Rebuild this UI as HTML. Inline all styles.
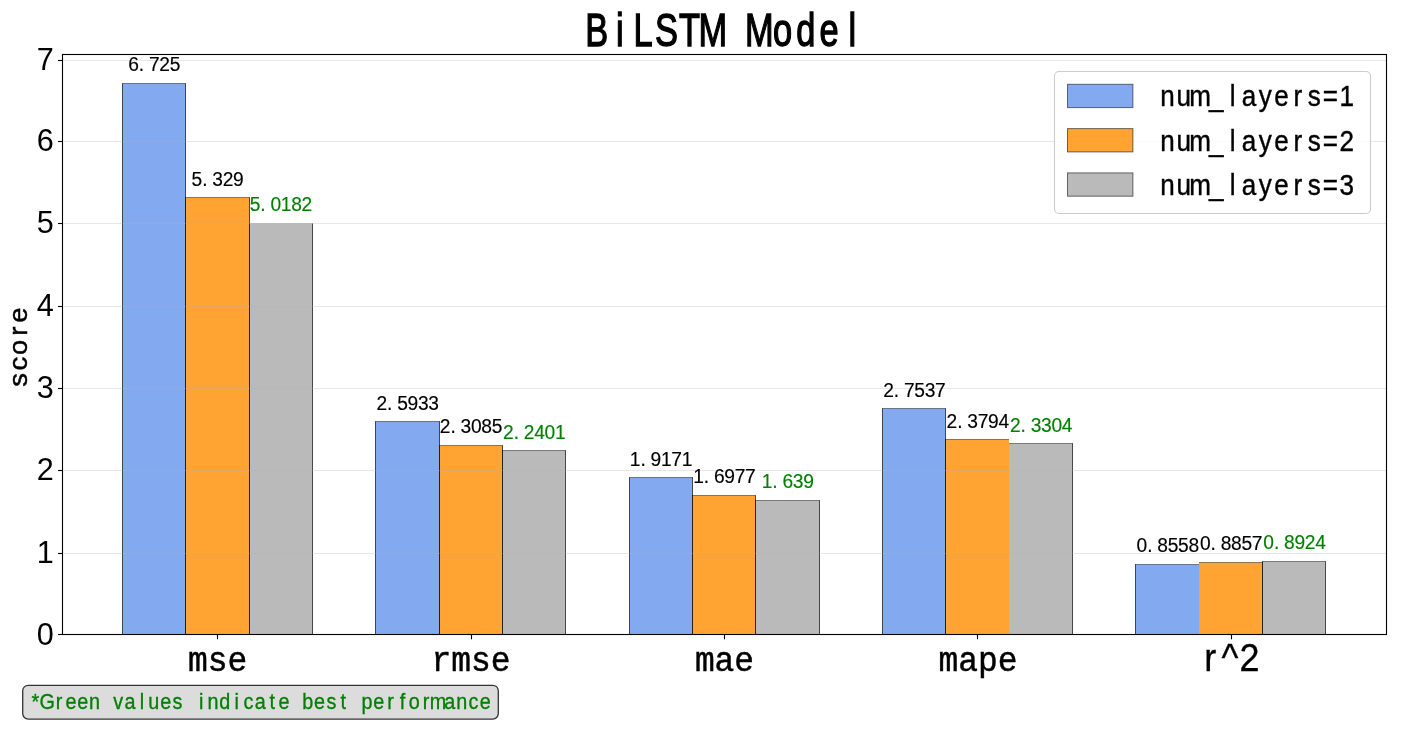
<!DOCTYPE html>
<html lang="en"><head><meta charset="utf-8"><title>BiLSTM Model</title>
<style>html,body{margin:0;padding:0;background:#fff;overflow:hidden}svg{display:block}</style></head>
<body>
<svg width="1401" height="729" viewBox="0 0 1401 729">
<rect width="1401" height="729" fill="#fff"/>
<rect x="122.5" y="83.5" width="63" height="551" fill="#6495ed" fill-opacity="0.8"/>
<path d="M122.5 634.5V83.5M185.5 83.5V634.5" fill="none" stroke="#000" stroke-opacity="0.68" stroke-width="1"/>
<path d="M122 83.5H186" fill="none" stroke="#000" stroke-opacity="0.45" stroke-width="1"/>
<rect x="185.5" y="197.5" width="64" height="437" fill="#ff8c00" fill-opacity="0.8"/>
<path d="M185.5 634.5V197.5M249.5 197.5V634.5" fill="none" stroke="#000" stroke-opacity="0.68" stroke-width="1"/>
<path d="M185 197.5H250" fill="none" stroke="#000" stroke-opacity="0.45" stroke-width="1"/>
<rect x="249.5" y="223.5" width="63" height="411" fill="#a9a9a9" fill-opacity="0.8"/>
<path d="M249.5 634.5V223.5M312.5 223.5V634.5" fill="none" stroke="#000" stroke-opacity="0.68" stroke-width="1"/>
<path d="M249 223.5H313" fill="none" stroke="#000" stroke-opacity="0.12" stroke-width="1"/>
<rect x="375.5" y="421.5" width="64" height="213" fill="#6495ed" fill-opacity="0.8"/>
<path d="M375.5 634.5V421.5M439.5 421.5V634.5" fill="none" stroke="#000" stroke-opacity="0.68" stroke-width="1"/>
<path d="M375 421.5H440" fill="none" stroke="#000" stroke-opacity="0.45" stroke-width="1"/>
<rect x="439.5" y="445.5" width="63" height="189" fill="#ff8c00" fill-opacity="0.8"/>
<path d="M439.5 634.5V445.5M502.5 445.5V634.5" fill="none" stroke="#000" stroke-opacity="0.68" stroke-width="1"/>
<path d="M439 445.5H503" fill="none" stroke="#000" stroke-opacity="0.45" stroke-width="1"/>
<rect x="502.5" y="450.5" width="63" height="184" fill="#a9a9a9" fill-opacity="0.8"/>
<path d="M502.5 634.5V450.5M565.5 450.5V634.5" fill="none" stroke="#000" stroke-opacity="0.68" stroke-width="1"/>
<path d="M502 450.5H566" fill="none" stroke="#000" stroke-opacity="0.45" stroke-width="1"/>
<rect x="629.5" y="477.5" width="63" height="157" fill="#6495ed" fill-opacity="0.8"/>
<path d="M629.5 634.5V477.5M692.5 477.5V634.5" fill="none" stroke="#000" stroke-opacity="0.68" stroke-width="1"/>
<path d="M629 477.5H693" fill="none" stroke="#000" stroke-opacity="0.45" stroke-width="1"/>
<rect x="692.5" y="495.5" width="63" height="139" fill="#ff8c00" fill-opacity="0.8"/>
<path d="M692.5 634.5V495.5M755.5 495.5V634.5" fill="none" stroke="#000" stroke-opacity="0.68" stroke-width="1"/>
<path d="M692 495.5H756" fill="none" stroke="#000" stroke-opacity="0.45" stroke-width="1"/>
<rect x="755.5" y="500.5" width="64" height="134" fill="#a9a9a9" fill-opacity="0.8"/>
<path d="M755.5 634.5V500.5M819.5 500.5V634.5" fill="none" stroke="#000" stroke-opacity="0.68" stroke-width="1"/>
<path d="M755 500.5H820" fill="none" stroke="#000" stroke-opacity="0.45" stroke-width="1"/>
<rect x="882.5" y="408.5" width="63" height="226" fill="#6495ed" fill-opacity="0.8"/>
<path d="M882.5 634.5V408.5M945.5 408.5V634.5" fill="none" stroke="#000" stroke-opacity="0.68" stroke-width="1"/>
<path d="M882 408.5H946" fill="none" stroke="#000" stroke-opacity="0.45" stroke-width="1"/>
<rect x="945.5" y="439.5" width="63.5" height="195" fill="#ff8c00" fill-opacity="0.8"/>
<path d="M945.5 634.5V439.5" fill="none" stroke="#000" stroke-opacity="0.68" stroke-width="1"/>
<path d="M945 439.5H1009" fill="none" stroke="#000" stroke-opacity="0.45" stroke-width="1"/>
<rect x="1009" y="443.5" width="63.5" height="191" fill="#a9a9a9" fill-opacity="0.8"/>
<path d="M1072.5 443.5V634.5" fill="none" stroke="#000" stroke-opacity="0.68" stroke-width="1"/>
<path d="M1009 443.5H1073" fill="none" stroke="#000" stroke-opacity="0.45" stroke-width="1"/>
<rect x="1135.5" y="564.5" width="63.5" height="70" fill="#6495ed" fill-opacity="0.8"/>
<path d="M1135.5 634.5V564.5" fill="none" stroke="#000" stroke-opacity="0.68" stroke-width="1"/>
<path d="M1135 564.5H1199" fill="none" stroke="#000" stroke-opacity="0.45" stroke-width="1"/>
<rect x="1199" y="562.5" width="63.5" height="72" fill="#ff8c00" fill-opacity="0.8"/>
<path d="M1262.5 562.5V634.5" fill="none" stroke="#000" stroke-opacity="0.68" stroke-width="1"/>
<path d="M1199 562.5H1263" fill="none" stroke="#000" stroke-opacity="0.45" stroke-width="1"/>
<rect x="1262.5" y="561.5" width="63" height="73" fill="#a9a9a9" fill-opacity="0.8"/>
<path d="M1262.5 634.5V561.5M1325.5 561.5V634.5" fill="none" stroke="#000" stroke-opacity="0.68" stroke-width="1"/>
<path d="M1262 561.5H1326" fill="none" stroke="#000" stroke-opacity="0.45" stroke-width="1"/>
<line x1="62.5" x2="1386.5" y1="553.5" y2="553.5" stroke="#b0b0b0" stroke-opacity="0.3" stroke-width="1"/>
<line x1="62.5" x2="1386.5" y1="470.5" y2="470.5" stroke="#b0b0b0" stroke-opacity="0.3" stroke-width="1"/>
<line x1="62.5" x2="1386.5" y1="388.5" y2="388.5" stroke="#b0b0b0" stroke-opacity="0.3" stroke-width="1"/>
<line x1="62.5" x2="1386.5" y1="306.5" y2="306.5" stroke="#b0b0b0" stroke-opacity="0.3" stroke-width="1"/>
<line x1="62.5" x2="1386.5" y1="223.5" y2="223.5" stroke="#b0b0b0" stroke-opacity="0.3" stroke-width="1"/>
<line x1="62.5" x2="1386.5" y1="141.5" y2="141.5" stroke="#b0b0b0" stroke-opacity="0.3" stroke-width="1"/>
<line x1="62.5" x2="1386.5" y1="60.5" y2="60.5" stroke="#b0b0b0" stroke-opacity="0.3" stroke-width="1"/>
<rect x="62.5" y="54.5" width="1324.0" height="580.0" fill="none" stroke="#000" stroke-width="1.1"/>
<line x1="58.0" x2="62.5" y1="634.5" y2="634.5" stroke="#000" stroke-width="1.1"/>
<line x1="58.0" x2="62.5" y1="553.5" y2="553.5" stroke="#000" stroke-width="1.1"/>
<line x1="58.0" x2="62.5" y1="470.5" y2="470.5" stroke="#000" stroke-width="1.1"/>
<line x1="58.0" x2="62.5" y1="388.5" y2="388.5" stroke="#000" stroke-width="1.1"/>
<line x1="58.0" x2="62.5" y1="306.5" y2="306.5" stroke="#000" stroke-width="1.1"/>
<line x1="58.0" x2="62.5" y1="223.5" y2="223.5" stroke="#000" stroke-width="1.1"/>
<line x1="58.0" x2="62.5" y1="141.5" y2="141.5" stroke="#000" stroke-width="1.1"/>
<line x1="58.0" x2="62.5" y1="60.5" y2="60.5" stroke="#000" stroke-width="1.1"/>
<line x1="217.5" x2="217.5" y1="634.5" y2="639.3" stroke="#000" stroke-width="1.1"/>
<line x1="471.5" x2="471.5" y1="634.5" y2="639.3" stroke="#000" stroke-width="1.1"/>
<line x1="724.5" x2="724.5" y1="634.5" y2="639.3" stroke="#000" stroke-width="1.1"/>
<line x1="977.5" x2="977.5" y1="634.5" y2="639.3" stroke="#000" stroke-width="1.1"/>
<line x1="1231.5" x2="1231.5" y1="634.5" y2="639.3" stroke="#000" stroke-width="1.1"/>
<text transform="translate(37.2,645.3) scale(1.0,1)" x="8.15" y="0" text-anchor="middle" font-family="'Liberation Sans', sans-serif" font-size="30.6" fill="#000">0</text>
<text transform="translate(37.2,563.1) scale(1.0,1)" x="8.15" y="0" text-anchor="middle" font-family="'Liberation Sans', sans-serif" font-size="30.6" fill="#000">1</text>
<text transform="translate(37.2,480.1) scale(1.0,1)" x="8.15" y="0" text-anchor="middle" font-family="'Liberation Sans', sans-serif" font-size="30.6" fill="#000">2</text>
<text transform="translate(37.2,398.1) scale(1.0,1)" x="8.15" y="0" text-anchor="middle" font-family="'Liberation Sans', sans-serif" font-size="30.6" fill="#000">3</text>
<text transform="translate(37.2,316.1) scale(1.0,1)" x="8.15" y="0" text-anchor="middle" font-family="'Liberation Sans', sans-serif" font-size="30.6" fill="#000">4</text>
<text transform="translate(37.2,233.1) scale(1.0,1)" x="8.15" y="0" text-anchor="middle" font-family="'Liberation Sans', sans-serif" font-size="30.6" fill="#000">5</text>
<text transform="translate(37.2,151.1) scale(1.0,1)" x="8.15" y="0" text-anchor="middle" font-family="'Liberation Sans', sans-serif" font-size="30.6" fill="#000">6</text>
<text transform="translate(37.2,70.1) scale(1.0,1)" x="8.15" y="0" text-anchor="middle" font-family="'Liberation Sans', sans-serif" font-size="30.6" fill="#000">7</text>
<text transform="translate(188.08,671.2) scale(0.9430,1)" font-family="'Liberation Mono', monospace" font-size="34.9" fill="#000" stroke="#000" stroke-width="0.5">mse</text>
<text transform="translate(431.6,671.2) scale(0.9430,1)" font-family="'Liberation Mono', monospace" font-size="34.9" fill="#000" stroke="#000" stroke-width="0.5">rmse</text>
<text transform="translate(694.88,671.2) scale(0.9430,1)" font-family="'Liberation Mono', monospace" font-size="34.9" fill="#000" stroke="#000" stroke-width="0.5">mae</text>
<text transform="translate(938.4,671.2) scale(0.9430,1)" font-family="'Liberation Mono', monospace" font-size="34.9" fill="#000" stroke="#000" stroke-width="0.5">mape</text>
<text transform="translate(1200.27,671.2) scale(0.92,1)" x="10.73 32.2 53.67" y="0" text-anchor="middle" font-family="'Liberation Sans', sans-serif" font-size="39.2" fill="#000" stroke="#000" stroke-width="0.3" vector-effect="non-scaling-stroke">r^2</text>
<text transform="translate(585,45.8) scale(0.74,1)" x="15.71 47.13 78.55 109.97 141.39 172.8 204.22 235.64 267.06 298.48 329.9 361.32" y="0" text-anchor="middle" font-family="'Liberation Sans', sans-serif" font-size="46.5" fill="#000" stroke="#000" stroke-width="1.2" vector-effect="non-scaling-stroke">BiLSTM Model</text>
<text transform="translate(27.4,387.9) rotate(-90) scale(1.03,1)" x="7.86 23.59 39.32 55.05 70.78" y="0" text-anchor="middle" font-family="'Liberation Sans', sans-serif" font-size="26.6" fill="#000" stroke="#000" stroke-width="0.5" vector-effect="non-scaling-stroke">score</text>
<text transform="translate(128.35,71.05) scale(0.98,1)" x="5.3 13.45 26.48 37.07 47.66" y="0" text-anchor="middle" font-family="'Liberation Sans', sans-serif" font-size="19.6" fill="#000" stroke="#000" stroke-width="0.15" vector-effect="non-scaling-stroke">6.725</text>
<text transform="translate(191.7,185.52) scale(0.98,1)" x="5.3 13.45 26.48 37.07 47.66" y="0" text-anchor="middle" font-family="'Liberation Sans', sans-serif" font-size="19.6" fill="#000" stroke="#000" stroke-width="0.15" vector-effect="non-scaling-stroke">5.329</text>
<text transform="translate(249.86,211.01) scale(0.98,1)" x="5.3 13.45 26.48 37.07 47.66 58.26" y="0" text-anchor="middle" font-family="'Liberation Sans', sans-serif" font-size="19.6" fill="#008000" stroke="#008000" stroke-width="0.15" vector-effect="non-scaling-stroke">5.0182</text>
<text transform="translate(376.55,409.85) scale(0.98,1)" x="5.3 13.45 26.48 37.07 47.66 58.26" y="0" text-anchor="middle" font-family="'Liberation Sans', sans-serif" font-size="19.6" fill="#000" stroke="#000" stroke-width="0.15" vector-effect="non-scaling-stroke">2.5933</text>
<text transform="translate(439.9,433.2) scale(0.98,1)" x="5.3 13.45 26.48 37.07 47.66 58.26" y="0" text-anchor="middle" font-family="'Liberation Sans', sans-serif" font-size="19.6" fill="#000" stroke="#000" stroke-width="0.15" vector-effect="non-scaling-stroke">2.3085</text>
<text transform="translate(503.25,438.81) scale(0.98,1)" x="5.3 13.45 26.48 37.07 47.66 58.26" y="0" text-anchor="middle" font-family="'Liberation Sans', sans-serif" font-size="19.6" fill="#008000" stroke="#008000" stroke-width="0.15" vector-effect="non-scaling-stroke">2.2401</text>
<text transform="translate(629.95,466.3) scale(0.98,1)" x="5.3 13.45 26.48 37.07 47.66 58.26" y="0" text-anchor="middle" font-family="'Liberation Sans', sans-serif" font-size="19.6" fill="#000" stroke="#000" stroke-width="0.15" vector-effect="non-scaling-stroke">1.9171</text>
<text transform="translate(693.3,483.29) scale(0.98,1)" x="5.3 13.45 26.48 37.07 47.66 58.26" y="0" text-anchor="middle" font-family="'Liberation Sans', sans-serif" font-size="19.6" fill="#000" stroke="#000" stroke-width="0.15" vector-effect="non-scaling-stroke">1.6977</text>
<text transform="translate(761.84,488.1) scale(0.98,1)" x="5.3 13.45 26.48 37.07 47.66" y="0" text-anchor="middle" font-family="'Liberation Sans', sans-serif" font-size="19.6" fill="#008000" stroke="#008000" stroke-width="0.15" vector-effect="non-scaling-stroke">1.639</text>
<text transform="translate(883.35,396.7) scale(0.98,1)" x="5.3 13.45 26.48 37.07 47.66 58.26" y="0" text-anchor="middle" font-family="'Liberation Sans', sans-serif" font-size="19.6" fill="#000" stroke="#000" stroke-width="0.15" vector-effect="non-scaling-stroke">2.7537</text>
<text transform="translate(946.7,428.39) scale(0.98,1)" x="5.3 13.45 26.48 37.07 47.66 58.26" y="0" text-anchor="middle" font-family="'Liberation Sans', sans-serif" font-size="19.6" fill="#000" stroke="#000" stroke-width="0.15" vector-effect="non-scaling-stroke">2.3794</text>
<text transform="translate(1010.05,431.81) scale(0.98,1)" x="5.3 13.45 26.48 37.07 47.66 58.26" y="0" text-anchor="middle" font-family="'Liberation Sans', sans-serif" font-size="19.6" fill="#008000" stroke="#008000" stroke-width="0.15" vector-effect="non-scaling-stroke">2.3304</text>
<text transform="translate(1136.74,552.32) scale(0.98,1)" x="5.3 13.45 26.48 37.07 47.66 58.26" y="0" text-anchor="middle" font-family="'Liberation Sans', sans-serif" font-size="19.6" fill="#000" stroke="#000" stroke-width="0.15" vector-effect="non-scaling-stroke">0.8558</text>
<text transform="translate(1200.09,549.87) scale(0.98,1)" x="5.3 13.45 26.48 37.07 47.66 58.26" y="0" text-anchor="middle" font-family="'Liberation Sans', sans-serif" font-size="19.6" fill="#000" stroke="#000" stroke-width="0.15" vector-effect="non-scaling-stroke">0.8857</text>
<text transform="translate(1263.44,549.32) scale(0.98,1)" x="5.3 13.45 26.48 37.07 47.66 58.26" y="0" text-anchor="middle" font-family="'Liberation Sans', sans-serif" font-size="19.6" fill="#008000" stroke="#008000" stroke-width="0.15" vector-effect="non-scaling-stroke">0.8924</text>
<rect x="1054.5" y="71.5" width="316" height="142" rx="4.5" fill="rgba(255,255,255,0.8)" stroke="#ccc" stroke-width="1.1"/>
<rect x="1067.5" y="84.3" width="65.4" height="23.3" fill="#6495ed" fill-opacity="0.8" stroke="#000" stroke-opacity="0.55" stroke-width="1"/>
<text transform="translate(1159.3,106.2) scale(0.88,1)" x="9.26 27.78 46.31 64.83 83.35 101.88 120.4 138.92 157.44 175.97 194.49 213.01" y="0" text-anchor="middle" font-family="'Liberation Sans', sans-serif" font-size="29.6" fill="#000" stroke="#000" stroke-width="0.4" vector-effect="non-scaling-stroke">num_layers=1</text>
<rect x="1067.5" y="128.6" width="65.4" height="23.3" fill="#ff8c00" fill-opacity="0.8" stroke="#000" stroke-opacity="0.55" stroke-width="1"/>
<text transform="translate(1159.3,150.5) scale(0.88,1)" x="9.26 27.78 46.31 64.83 83.35 101.88 120.4 138.92 157.44 175.97 194.49 213.01" y="0" text-anchor="middle" font-family="'Liberation Sans', sans-serif" font-size="29.6" fill="#000" stroke="#000" stroke-width="0.4" vector-effect="non-scaling-stroke">num_layers=2</text>
<rect x="1067.5" y="172.9" width="65.4" height="23.3" fill="#a9a9a9" fill-opacity="0.8" stroke="#000" stroke-opacity="0.55" stroke-width="1"/>
<text transform="translate(1159.3,194.8) scale(0.88,1)" x="9.26 27.78 46.31 64.83 83.35 101.88 120.4 138.92 157.44 175.97 194.49 213.01" y="0" text-anchor="middle" font-family="'Liberation Sans', sans-serif" font-size="29.6" fill="#000" stroke="#000" stroke-width="0.4" vector-effect="non-scaling-stroke">num_layers=3</text>
<rect x="22.7" y="685.3" width="475.6" height="33.8" rx="5.5" fill="#dcdcdc" stroke="#333" stroke-width="1.3"/>
<text transform="translate(29.5,708.9) scale(0.9,1)" x="6.58 19.73 32.89 46.04 59.2 72.36 85.51 98.67 111.82 124.98 138.13 151.29 164.44 177.6 190.76 203.91 217.07 230.22 243.38 256.53 269.69 282.84 296 309.16 322.31 335.47 348.62 361.78 374.93 388.09 401.24 414.4 427.56 440.71 453.87 467.02 480.18 493.33 506.49" y="0" text-anchor="middle" font-family="'Liberation Sans', sans-serif" font-size="22" fill="#008000" stroke="#008000" stroke-width="0.3" vector-effect="non-scaling-stroke">*Green values indicate best performance</text>
</svg>
</body></html>
